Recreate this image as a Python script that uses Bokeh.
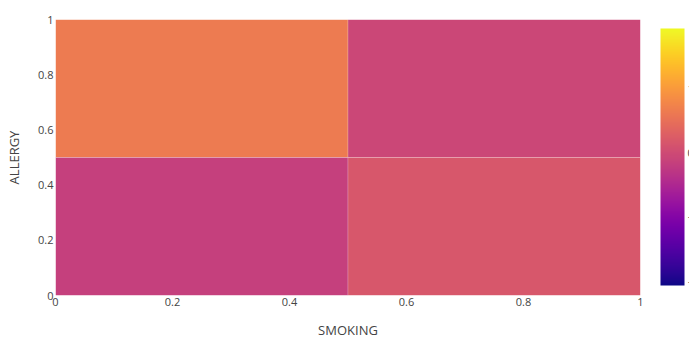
from bokeh.plotting import figure
from bokeh.models import LinearColorMapper, ColorBar, FixedTicker, ColumnDataSource
from bokeh.palettes import Plasma256
from bokeh.embed import file_html
from bokeh.resources import INLINE

# cell bounds (SMOKING on x, ALLERGY on y) and values
smoking_lo = [0.0, 0.5, 0.0, 0.5]
smoking_hi = [0.5, 1.0, 0.5, 1.0]
allergy_lo = [0.5, 0.5, 0.0, 0.0]
allergy_hi = [1.0, 1.0, 0.5, 0.5]
z_values = [0.63, -0.05, -0.15, 0.17]

x_ticks = [0, 0.2, 0.4, 0.6, 0.8, 1]
y_ticks = [0, 0.2, 0.4, 0.6, 0.8, 1]
cbar_ticks = [-2, -1, 0, 1]

src = ColumnDataSource(dict(left=smoking_lo, right=smoking_hi,
                            bottom=allergy_lo, top=allergy_hi, z=z_values))

mapper = LinearColorMapper(palette=Plasma256, low=-2.06, high=1.94)

p = figure(width=689, height=341, x_range=(0, 1), y_range=(0, 1),
           output_backend="svg", toolbar_location=None,
           min_border_left=55, min_border_top=19, min_border_bottom=44,
           min_border_right=49)
p.quad(left="left", right="right", bottom="bottom", top="top", source=src,
       fill_color={"field": "z", "transform": mapper},
       line_color="white", line_alpha=0.2, line_width=1)

font = "Open Sans"
for ax in (p.xaxis, p.yaxis):
    ax.axis_line_color = None
    ax.major_tick_line_color = None
    ax.minor_tick_line_color = None
    ax.major_tick_out = 0
    ax.major_tick_in = 0
    ax.major_label_text_color = "#444444"
    ax.major_label_text_font = font
    ax.major_label_text_font_size = "11px"
    ax.axis_label_text_color = "#444444"
    ax.axis_label_text_font = font
    ax.axis_label_text_font_size = "13px"
    ax.axis_label_text_font_style = "normal"
p.xaxis.ticker = FixedTicker(ticks=x_ticks)
p.yaxis.ticker = FixedTicker(ticks=y_ticks)
p.xaxis.major_label_overrides = {0: "0", 1: "1"}
p.yaxis.major_label_overrides = {0: "0", 1: "1"}
p.xaxis.axis_label = "SMOKING"
p.yaxis.axis_label = "ALLERGY"
p.xaxis.major_label_standoff = 2
p.yaxis.major_label_standoff = 2
p.xaxis.axis_label_standoff = 12
p.yaxis.axis_label_standoff = 12
p.grid.grid_line_color = None
p.outline_line_color = None

cb = ColorBar(color_mapper=mapper, width=24, height=257, padding=0, margin=0,
              ticker=FixedTicker(ticks=cbar_ticks),
              major_tick_line_color=None, bar_line_color=None,
              major_label_text_font=font, major_label_text_font_size="11px",
              major_label_text_color="#444444", label_standoff=3,
              location=(605, 10))
p.add_layout(cb, "center")

open("out.html", "w").write(file_html(p, INLINE))
